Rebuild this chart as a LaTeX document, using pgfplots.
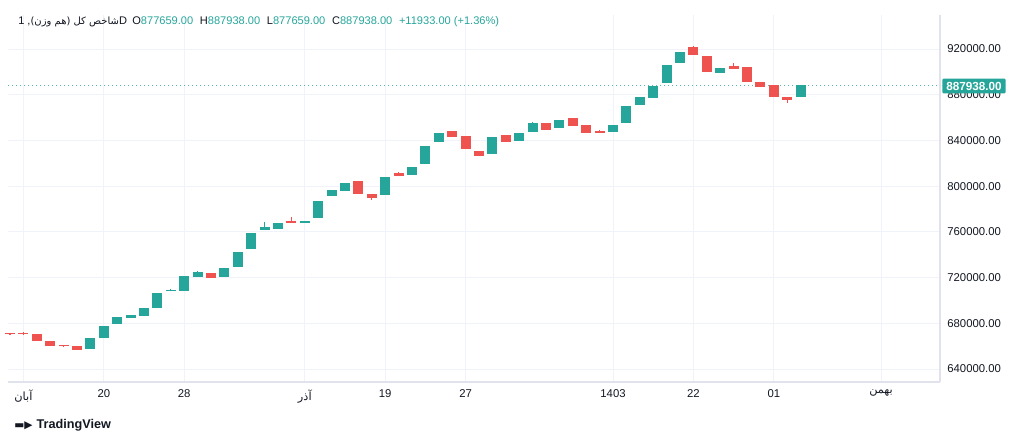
\documentclass[border=0pt]{standalone}
\usepackage{pgfplots}
\usepackage{pgfplotstable}
\pgfplotsset{compat=1.18}
\usepackage{fontspec}
\setmainfont{Liberation Sans}
\newfontfamily\arabicfont[Script=Arabic]{DejaVu Sans}
\newfontfamily\symfont{DejaVu Sans}
\TeXXeTstate=1
\definecolor{tvg}{HTML}{26A69A}
\definecolor{tvr}{HTML}{EF5350}
\definecolor{tvgrid}{HTML}{F0F3FA}
\definecolor{tvtext}{HTML}{131722}
\definecolor{tvaxis}{HTML}{E0E3EB}
\pgfplotstableread{
i o h l c
7 657500 666250 657500 666250
8 667125 676750 667125 676750
9 679375 685500 679375 684625
10 684625 686375 684625 686375
11 686375 692500 686375 692500
12 693375 705625 693375 705625
13 708000 710000 708000 708500
14 708250 720500 708250 720500
15 720500 725750 720500 724000
17 720500 727500 720500 727500
18 729250 741500 729250 741500
19 745000 758125 745000 758125
20 761625 768625 761625 763375
21 762500 766875 762500 766875
23 767750 768625 767750 768625
24 772125 786125 772125 786125
25 791375 795750 791375 795750
26 795750 801875 795750 801875
29 792250 807125 792250 807125
31 809750 815875 809750 815875
32 819375 834250 819375 834250
33 838625 846500 838625 845625
37 828125 842125 828125 842125
39 839500 845625 839500 845625
40 847375 856125 847375 854375
42 850875 857000 850875 857000
46 847375 852625 847375 852625
47 855250 869250 855250 869250
48 871000 877125 871000 877125
49 877125 886750 877125 886750
50 890250 905125 890250 905125
51 907750 916500 907750 916500
54 899000 902500 899000 902500
60 877659 887938 877659 887938
}\green
\pgfplotstableread{
i o h l c
1 670800 671000 670200 670400
2 671000 672400 670000 670400
3 669750 669750 664500 664500
4 663625 663625 660125 660125
5 660300 660800 659500 659900
6 659250 659250 656625 656625
16 723125 723125 719625 719625
22 768625 773000 767750 767750
27 803625 803625 793125 793125
28 792250 792250 787875 789625
30 810625 812375 808875 808875
34 847375 847375 843000 843000
35 843000 843000 832500 832500
36 829875 829875 826375 826375
38 843875 843875 838625 838625
41 854375 855250 849125 849125
43 858750 858750 852625 852625
44 852625 852625 846500 846500
45 847375 849125 846500 846500
52 920875 922625 914750 914750
53 913000 913000 899875 899875
55 904250 907750 902500 902500
56 903375 903375 891125 891125
57 890250 890250 886750 886750
58 887625 887625 878000 878000
59 877125 877125 872750 875375
}\red
\begin{document}
\begin{tikzpicture}[x=0.75pt,y=0.75pt]
\useasboundingbox (0,0) rectangle (1024,443);
\begin{axis}[at={(6pt,45.75pt)},anchor=south west,
  width=699pt,height=275.25pt,scale only axis,
  xmin=0.85,xmax=70.4,ymin=628625,ymax=949750,
  axis x line*=bottom, axis y line*=right,
  axis line style={tvaxis,line width=0.8pt},
  x axis line style={-}, y axis line style={-},
  grid=major, grid style={tvgrid,line width=0.6pt},
  major tick length=0pt,
  ytick={640000,680000,...,920000},
  yticklabel pos=right,
  /pgf/number format/assume math mode=true,
  yticklabel style={/pgf/number format/.cd,fixed,fixed zerofill,precision=2,1000 sep={}, /tikz/.cd, font=\fontsize{8.5}{10}\selectfont, text=tvtext, xshift=2pt},
  scaled y ticks=false,
  xtick={2,8,14,23,29,35,46,52,58,66},
  xticklabels={{\arabicfont\beginR آبان\endR},20,28,{\arabicfont\beginR آذر\endR},19,27,1403,22,01,{\arabicfont\beginR بهمن\endR}},
  xticklabel style={font=\fontsize{8.5}{10}\selectfont, text=tvtext, yshift=-2pt},
  clip=false,
]
\addplot[tvg!80!white, dash pattern=on 1pt off 2pt, line width=0.8pt, forget plot] coordinates {(0.85,887938) (70.4,887938)};
\addplot[draw=none, mark=none, error bars/.cd, y dir=plus, y explicit, error mark=none, error bar style={tvg,line width=0.9pt}]
  table[x=i, y=l, y error expr=\thisrow{h}-\thisrow{l}] {\green};
\addplot[draw=none, mark=none, error bars/.cd, y dir=plus, y explicit, error mark=none, error bar style={tvr,line width=0.9pt}]
  table[x=i, y=l, y error expr=\thisrow{h}-\thisrow{l}] {\red};
\addplot[draw=none, mark=none, error bars/.cd, y dir=plus, y explicit, error mark=none, error bar style={tvg,line width=7.5pt}]
  table[x=i, y=o, y error expr=\thisrow{c}-\thisrow{o}+700] {\green};
\addplot[draw=none, mark=none, error bars/.cd, y dir=plus, y explicit, error mark=none, error bar style={tvr,line width=7.5pt}]
  table[x=i, y=c, y error expr=\thisrow{o}-\thisrow{c}+700] {\red};
\end{axis}
\node[fill=tvg, text=white, font=\fontsize{8.8}{10}\selectfont\bfseries, inner xsep=3pt, inner ysep=2.5pt, anchor=west, rounded corners=1pt] at (942,357) {887938.00};
\node[anchor=west, font=\fontsize{8.3}{10}\selectfont, text=tvtext, inner sep=0pt] at (18,421) {1 ,{\arabicfont\fontsize{7.5}{10}\selectfont\beginR شاخص کل (هم وزن)\endR}D\hspace{4pt}O\textcolor{tvg}{877659.00}\hspace{5pt}H\textcolor{tvg}{887938.00}\hspace{5pt}L\textcolor{tvg}{877659.00}\hspace{5pt}C\textcolor{tvg}{887938.00}\hspace{5pt}\textcolor{tvg}{+11933.00 (+1.36\%)}};
\node[anchor=west, font=\fontsize{9.5}{11}\selectfont\bfseries, text=tvtext, inner sep=0pt] at (14,18) {{\symfont\fontsize{8}{10}\selectfont ▬▶}\hspace{3pt}TradingView};
\end{tikzpicture}
\end{document}
